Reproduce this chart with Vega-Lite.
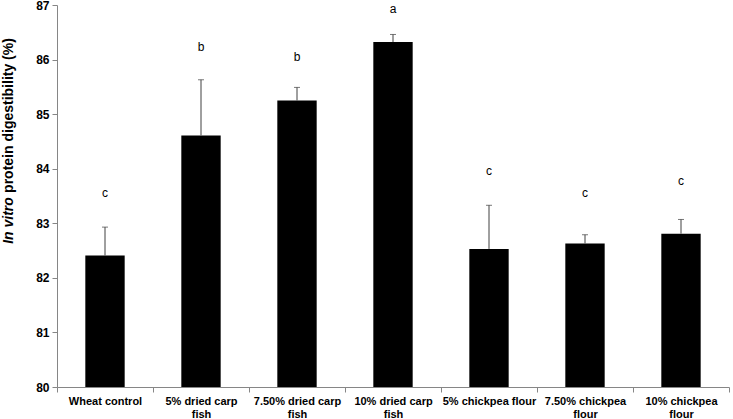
{
  "$schema": "https://vega.github.io/schema/vega-lite/v6.json",
  "width": 672,
  "height": 382,
  "autosize": {"type": "none"},
  "padding": {"left": 57, "top": 5, "right": 4, "bottom": 32},
  "background": "white",
  "config": {
    "view": {"stroke": null},
    "axis": {"labelFont": "Liberation Sans", "titleFont": "Liberation Sans"}
  },
  "data": {
    "values": [
      {"category": "Wheat control", "value": 82.41, "err_top": 82.93, "letter": "c", "letter_y": 83.56},
      {"category": "5% dried carp fish", "value": 84.61, "err_top": 85.63, "letter": "b", "letter_y": 86.23},
      {"category": "7.50% dried carp fish", "value": 85.25, "err_top": 85.49, "letter": "b", "letter_y": 86.05},
      {"category": "10% dried carp fish", "value": 86.32, "err_top": 86.46, "letter": "a", "letter_y": 86.93},
      {"category": "5% chickpea flour", "value": 82.53, "err_top": 83.33, "letter": "c", "letter_y": 83.95},
      {"category": "7.50% chickpea flour", "value": 82.63, "err_top": 82.79, "letter": "c", "letter_y": 83.55},
      {"category": "10% chickpea flour", "value": 82.81, "err_top": 83.07, "letter": "c", "letter_y": 83.78}
    ]
  },
  "layer": [
    {
      "mark": {"type": "bar", "color": "black", "width": {"band": 0.41}},
      "encoding": {
        "x": {
          "field": "category",
          "type": "nominal",
          "sort": null,
          "scale": {"paddingInner": 0, "paddingOuter": 0},
          "axis": {
            "title": null,
            "labelAngle": 0,
            "labelFontSize": 11,
            "labelFontWeight": "bold",
            "labelColor": "black",
            "labelPadding": 3,
            "domainColor": "#868686",
            "tickColor": "#868686",
            "tickSize": 5,
            "tickBand": "extent",
            "labelExpr": "datum.value == '5% dried carp fish' ? ['5% dried carp', 'fish'] : datum.value == '7.50% dried carp fish' ? ['7.50% dried carp', 'fish'] : datum.value == '10% dried carp fish' ? ['10% dried carp', 'fish'] : datum.value == '7.50% chickpea flour' ? ['7.50% chickpea', 'flour'] : datum.value == '10% chickpea flour' ? ['10% chickpea', 'flour'] : datum.value"
          }
        },
        "y": {
          "field": "value",
          "type": "quantitative",
          "scale": {"domain": [80, 87], "nice": false, "zero": false},
          "axis": {
            "values": [80, 81, 82, 83, 84, 85, 86, 87],
            "grid": false,
            "labelFontSize": 12,
            "labelFontWeight": "bold",
            "labelColor": "black",
            "labelPadding": 3,
            "tickSize": 5,
            "domainColor": "#868686",
            "tickColor": "#868686",
            "title": "protein digestibility (%)",
            "titleFontSize": 14,
            "titleFontWeight": "bold",
            "titleColor": "black",
            "titleAlign": "center",
            "titleBaseline": "middle",
            "titleAngle": 270,
            "titleX": -49,
            "titleY": 110
          }
        },
        "y2": {"datum": 80}
      }
    },
    {
      "mark": {"type": "rule", "color": "#404040", "strokeWidth": 1},
      "encoding": {
        "x": {"field": "category", "type": "nominal", "sort": null},
        "y": {"field": "value", "type": "quantitative", "axis": null},
        "y2": {"field": "err_top"}
      }
    },
    {
      "mark": {"type": "tick", "color": "#404040", "orient": "horizontal", "size": 6, "thickness": 1},
      "encoding": {
        "x": {"field": "category", "type": "nominal", "sort": null},
        "y": {"field": "err_top", "type": "quantitative", "axis": null}
      }
    },
    {
      "mark": {"type": "text", "font": "Liberation Sans", "fontSize": 12, "color": "black", "baseline": "middle"},
      "encoding": {
        "x": {"field": "category", "type": "nominal", "sort": null},
        "y": {
          "field": "letter_y",
          "type": "quantitative",
          "axis": {
            "orient": "left",
            "grid": false,
            "labels": false,
            "ticks": false,
            "domain": false,
            "title": "In vitro",
            "titleFontSize": 14,
            "titleFontWeight": "bold",
            "titleFontStyle": "italic",
            "titleColor": "black",
            "titleAlign": "center",
            "titleBaseline": "middle",
            "titleAngle": 270,
            "titleX": -49,
            "titleY": 215
          }
        },
        "text": {"field": "letter"}
      }
    }
  ],
  "resolve": {"axis": {"y": "independent"}}
}
